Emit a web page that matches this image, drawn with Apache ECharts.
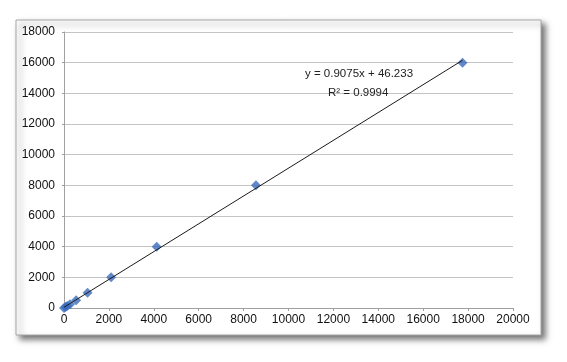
<!DOCTYPE html>
<html>
<head>
<meta charset="utf-8">
<script src="https://cdn.jsdelivr.net/npm/echarts@6/dist/echarts.min.js"></script>
<style>html,body{margin:0;padding:0;background:#fff;}#c{width:567px;height:362px;}</style>
</head>
<body>
<div id="c"></div>
<script>
const xValues = [0, 70, 140, 270, 540, 1050, 2100, 4130, 8550, 17750];
const yValues = [0, 62.5, 125, 250, 500, 1000, 2000, 4000, 8000, 16000];
const trendX = [0, 17750];
const trendY = [46.2, 16154];
const xTicks = [0, 2000, 4000, 6000, 8000, 10000, 12000, 14000, 16000, 18000, 20000];
const yTicks = [0, 2000, 4000, 6000, 8000, 10000, 12000, 14000, 16000, 18000];
const equationText = 'y = 0.9075x + 46.233';
const r2Text = 'R² = 0.9994';

const chart = echarts.init(document.getElementById('c'), null, {renderer: 'canvas'});
const font = '"Liberation Sans", Arial, sans-serif';
const plain = v => String(v);
chart.setOption({
  animation: false,
  backgroundColor: '#ffffff',
  graphic: [
    {type: 'rect', z: -10, shape: {x: 16, y: 20, width: 525, height: 315},
     style: {fill: '#ffffff', stroke: '#a6a6a6', lineWidth: 1, shadowBlur: 6, shadowOffsetX: 4, shadowOffsetY: 4, shadowColor: 'rgba(0,0,0,0.55)'}},
    {type: 'text', left: 305, top: 68, z: 10,
     style: {text: equationText, font: '11.5px ' + font, fill: '#222'}},
    {type: 'text', left: 328, top: 87, z: 10,
     style: {text: r2Text, font: '11.5px ' + font, fill: '#222'}}
  ],
  grid: {left: 64, right: 54, top: 32, bottom: 54, containLabel: false},
  xAxis: {
    type: 'value', min: xTicks[0], max: xTicks[xTicks.length - 1], interval: 2000,
    axisLine: {show: true, lineStyle: {color: '#a0a0a0'}},
    axisTick: {show: true, length: 3, lineStyle: {color: '#a0a0a0'}},
    axisLabel: {color: '#111', fontSize: 12, fontFamily: font, margin: 6, formatter: plain},
    splitLine: {show: false}
  },
  yAxis: {
    type: 'value', min: yTicks[0], max: yTicks[yTicks.length - 1], interval: 2000,
    axisLine: {show: true, lineStyle: {color: '#a0a0a0'}},
    axisTick: {show: true, length: 2, lineStyle: {color: '#a0a0a0'}},
    axisLabel: {color: '#111', fontSize: 12, fontFamily: font, margin: 9, formatter: plain},
    splitLine: {show: true, lineStyle: {color: '#c4c4c4', width: 1}}
  },
  series: [
    {type: 'scatter', symbol: 'diamond', symbolSize: 10, z: 3,
     itemStyle: {color: '#3a6bbd'},
     data: xValues.map((x, i) => [x, yValues[i]])},
    {type: 'line', symbol: 'none', z: 4, silent: true,
     lineStyle: {color: '#1a1a1a', width: 1},
     data: trendX.map((x, i) => [x, trendY[i]])}
  ]
});
</script>
</body>
</html>
